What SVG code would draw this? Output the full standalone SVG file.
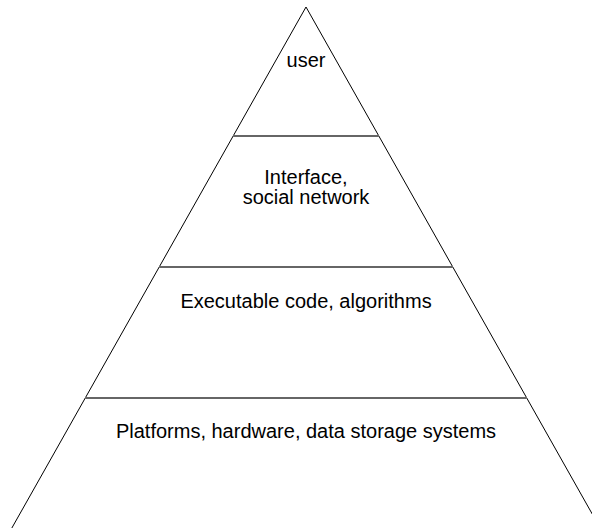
<svg xmlns="http://www.w3.org/2000/svg" width="592" height="528" viewBox="0 0 592 528">
<style>
.edge{fill:none;stroke:#000;stroke-width:1}
.div{stroke:#666;stroke-width:2}
text{font-family:"Liberation Sans",Arial,sans-serif;font-size:20px;fill:#000;text-anchor:middle}
</style>
<rect width="592" height="528" fill="#fff"/>
<g id="connectors">
<path class="edge" d="M0,549 L306,7 L612,549"/>
<line class="div" x1="233" y1="136" x2="379" y2="136"/>
<line class="div" x1="159" y1="267" x2="453" y2="267"/>
<line class="div" x1="85" y1="398" x2="527" y2="398"/>
</g>
<g id="user"><text x="306" y="67">user</text></g>
<g id="interface"><text x="306" y="184">Interface,</text><text x="306" y="204">social network</text></g>
<g id="code"><text x="306" y="308">Executable code, algorithms</text></g>
<g id="platforms"><text x="306" y="438">Platforms, hardware, data storage systems</text></g>
</svg>
